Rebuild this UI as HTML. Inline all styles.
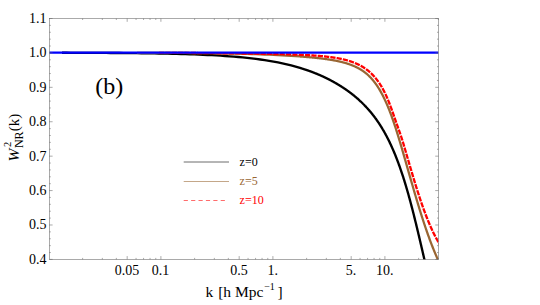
<!DOCTYPE html>
<html><head><meta charset="utf-8"><title>plot</title>
<style>html,body{margin:0;padding:0;background:#fff;}svg{display:block;}</style></head>
<body>
<svg width="540" height="305" viewBox="0 0 540 305">
<rect width="540" height="305" fill="#fff"/>
<defs><clipPath id="c"><rect x="49.3" y="18.5" width="389.2" height="240.89999999999998"/></clipPath></defs>
<g clip-path="url(#c)" fill="none" stroke-linejoin="round">
<path d="M62.03,52.77 L66.44,52.78 L70.85,52.80 L75.25,52.81 L79.66,52.82 L84.07,52.84 L88.47,52.86 L92.88,52.87 L97.29,52.89 L101.69,52.92 L106.10,52.94 L110.51,52.97 L114.92,53.00 L119.32,53.03 L123.73,53.06 L128.14,53.10 L132.54,53.14 L136.95,53.19 L141.36,53.24 L145.76,53.30 L150.17,53.36 L154.58,53.42 L158.98,53.50 L163.39,53.58 L167.80,53.67 L172.20,53.76 L176.61,53.87 L181.02,53.99 L185.42,54.11 L189.83,54.25 L194.24,54.41 L198.64,54.57 L203.05,54.76 L207.46,54.96 L211.86,55.18 L216.27,55.42 L220.68,55.69 L225.08,55.98 L229.49,56.30 L233.90,56.64 L238.31,57.02 L242.71,57.44 L247.12,57.89 L251.53,58.39 L255.93,58.93 L260.34,59.52 L264.75,60.16 L269.15,60.87 L273.56,61.63 L277.97,62.47 L282.37,63.38 L286.78,64.37 L291.19,65.45 L295.59,66.62 L300.00,67.90 L300.26,67.97 L300.51,68.05 L300.77,68.13 L301.02,68.21 L301.28,68.29 L301.53,68.37 L301.79,68.45 L302.04,68.52 L302.30,68.60 L302.55,68.69 L302.81,68.77 L303.06,68.85 L303.32,68.93 L303.57,69.01 L303.83,69.09 L304.08,69.18 L304.34,69.26 L304.59,69.34 L304.85,69.43 L305.10,69.51 L305.36,69.60 L305.61,69.68 L305.87,69.77 L306.12,69.85 L306.38,69.94 L306.63,70.03 L306.89,70.11 L307.14,70.20 L307.40,70.29 L307.65,70.38 L307.91,70.47 L308.16,70.56 L308.42,70.65 L308.67,70.74 L308.93,70.83 L309.18,70.92 L309.44,71.01 L309.69,71.10 L309.95,71.19 L310.20,71.29 L310.46,71.38 L310.71,71.47 L310.97,71.57 L311.22,71.66 L311.48,71.76 L311.74,71.85 L311.99,71.95 L312.25,72.05 L312.50,72.14 L312.76,72.24 L313.01,72.34 L313.27,72.44 L313.52,72.53 L313.78,72.63 L314.03,72.73 L314.29,72.83 L314.54,72.93 L314.80,73.03 L315.05,73.14 L315.31,73.24 L315.56,73.34 L315.82,73.44 L316.07,73.55 L316.33,73.65 L316.58,73.75 L316.84,73.86 L317.09,73.96 L317.35,74.07 L317.60,74.18 L317.86,74.28 L318.11,74.39 L318.37,74.50 L318.62,74.61 L318.88,74.72 L319.13,74.82 L319.39,74.93 L319.64,75.04 L319.90,75.16 L320.15,75.27 L320.41,75.38 L320.66,75.49 L320.92,75.60 L321.17,75.72 L321.43,75.83 L321.68,75.95 L321.94,76.06 L322.19,76.18 L322.45,76.29 L322.70,76.41 L322.96,76.53 L323.22,76.64 L323.47,76.76 L323.73,76.88 L323.98,77.00 L324.24,77.12 L324.49,77.24 L324.75,77.36 L325.00,77.48 L325.26,77.61 L325.51,77.73 L325.77,77.85 L326.02,77.97 L326.28,78.10 L326.53,78.22 L326.79,78.35 L327.04,78.48 L327.30,78.60 L327.55,78.73 L327.81,78.86 L328.06,78.99 L328.32,79.11 L328.57,79.24 L328.83,79.37 L329.08,79.51 L329.34,79.64 L329.59,79.77 L329.85,79.90 L330.10,80.03 L330.36,80.17 L330.61,80.30 L330.87,80.44 L331.12,80.57 L331.38,80.71 L331.63,80.85 L331.89,80.98 L332.14,81.12 L332.40,81.26 L332.65,81.40 L332.91,81.54 L333.16,81.68 L333.42,81.82 L333.67,81.96 L333.93,82.10 L334.18,82.25 L334.44,82.39 L334.69,82.54 L334.95,82.68 L335.21,82.83 L335.46,82.97 L335.72,83.12 L335.97,83.27 L336.23,83.42 L336.48,83.57 L336.74,83.72 L336.99,83.87 L337.25,84.02 L337.50,84.17 L337.76,84.32 L338.01,84.47 L338.27,84.63 L338.52,84.78 L338.78,84.94 L339.03,85.09 L339.29,85.25 L339.54,85.41 L339.80,85.56 L340.05,85.72 L340.31,85.88 L340.56,86.04 L340.82,86.20 L341.07,86.36 L341.33,86.53 L341.58,86.69 L341.84,86.85 L342.09,87.02 L342.35,87.18 L342.60,87.35 L342.86,87.52 L343.11,87.68 L343.37,87.85 L343.62,88.02 L343.88,88.19 L344.13,88.36 L344.39,88.53 L344.64,88.70 L344.90,88.88 L345.15,89.05 L345.41,89.23 L345.66,89.40 L345.92,89.58 L346.17,89.75 L346.43,89.93 L346.69,90.11 L346.94,90.29 L347.20,90.47 L347.45,90.65 L347.71,90.84 L347.96,91.02 L348.22,91.20 L348.47,91.39 L348.73,91.57 L348.98,91.76 L349.24,91.95 L349.49,92.14 L349.75,92.33 L350.00,92.52 L350.26,92.71 L350.51,92.90 L350.77,93.10 L351.02,93.29 L351.28,93.49 L351.53,93.68 L351.79,93.88 L352.04,94.08 L352.30,94.28 L352.55,94.48 L352.81,94.68 L353.06,94.89 L353.32,95.09 L353.57,95.30 L353.83,95.50 L354.08,95.71 L354.34,95.92 L354.59,96.13 L354.85,96.34 L355.10,96.55 L355.36,96.76 L355.61,96.98 L355.87,97.19 L356.12,97.41 L356.38,97.63 L356.63,97.85 L356.89,98.07 L357.14,98.29 L357.40,98.51 L357.65,98.73 L357.91,98.96 L358.17,99.19 L358.42,99.41 L358.68,99.64 L358.93,99.87 L359.19,100.10 L359.44,100.34 L359.70,100.57 L359.95,100.81 L360.21,101.04 L360.46,101.28 L360.72,101.52 L360.97,101.76 L361.23,102.01 L361.48,102.25 L361.74,102.50 L361.99,102.74 L362.25,102.99 L362.50,103.24 L362.76,103.49 L363.01,103.75 L363.27,104.00 L363.52,104.26 L363.78,104.51 L364.03,104.77 L364.29,105.03 L364.54,105.30 L364.80,105.56 L365.05,105.83 L365.31,106.09 L365.56,106.36 L365.82,106.63 L366.07,106.91 L366.33,107.18 L366.58,107.46 L366.84,107.73 L367.09,108.01 L367.35,108.29 L367.60,108.58 L367.86,108.86 L368.11,109.15 L368.37,109.44 L368.62,109.73 L368.88,110.02 L369.13,110.31 L369.39,110.61 L369.65,110.91 L369.90,111.21 L370.16,111.51 L370.41,111.81 L370.67,112.12 L370.92,112.43 L371.18,112.74 L371.43,113.05 L371.69,113.36 L371.94,113.68 L372.20,114.00 L372.45,114.32 L372.71,114.64 L372.96,114.97 L373.22,115.29 L373.47,115.62 L373.73,115.95 L373.98,116.29 L374.24,116.63 L374.49,116.96 L374.75,117.30 L375.00,117.65 L375.26,117.99 L375.51,118.34 L375.77,118.69 L376.02,119.05 L376.28,119.40 L376.53,119.76 L376.79,120.12 L377.04,120.49 L377.30,120.85 L377.55,121.22 L377.81,121.59 L378.06,121.97 L378.32,122.34 L378.57,122.72 L378.83,123.10 L379.08,123.49 L379.34,123.88 L379.59,124.27 L379.85,124.66 L380.10,125.06 L380.36,125.46 L380.61,125.86 L380.87,126.27 L381.13,126.68 L381.38,127.09 L381.64,127.50 L381.89,127.92 L382.15,128.34 L382.40,128.77 L382.66,129.19 L382.91,129.63 L383.17,130.06 L383.42,130.50 L383.68,130.94 L383.93,131.38 L384.19,131.83 L384.44,132.28 L384.70,132.74 L384.95,133.20 L385.21,133.66 L385.46,134.12 L385.72,134.59 L385.97,135.07 L386.23,135.54 L386.48,136.02 L386.74,136.51 L386.99,137.00 L387.25,137.49 L387.50,137.98 L387.76,138.48 L388.01,138.99 L388.27,139.50 L388.52,140.01 L388.78,140.52 L389.03,141.04 L389.29,141.57 L389.54,142.10 L389.80,142.63 L390.05,143.16 L390.31,143.70 L390.56,144.25 L390.82,144.80 L391.07,145.35 L391.33,145.91 L391.58,146.47 L391.84,147.04 L392.09,147.61 L392.35,148.18 L392.61,148.76 L392.86,149.35 L393.12,149.93 L393.37,150.53 L393.63,151.12 L393.88,151.73 L394.14,152.33 L394.39,152.94 L394.65,153.56 L394.90,154.18 L395.16,154.81 L395.41,155.44 L395.67,156.07 L395.92,156.71 L396.18,157.36 L396.43,158.00 L396.69,158.66 L396.94,159.32 L397.20,159.98 L397.45,160.65 L397.71,161.33 L397.96,162.01 L398.22,162.69 L398.47,163.38 L398.73,164.07 L398.98,164.77 L399.24,165.48 L399.49,166.19 L399.75,166.90 L400.00,167.62 L400.26,168.35 L400.51,169.08 L400.77,169.82 L401.02,170.56 L401.28,171.31 L401.53,172.06 L401.79,172.82 L402.04,173.59 L402.30,174.36 L402.55,175.13 L402.81,175.91 L403.06,176.70 L403.32,177.49 L403.57,178.29 L403.83,179.09 L404.08,179.90 L404.34,180.72 L404.60,181.54 L404.85,182.37 L405.11,183.20 L405.36,184.04 L405.62,184.89 L405.87,185.74 L406.13,186.60 L406.38,187.46 L406.64,188.33 L406.89,189.20 L407.15,190.08 L407.40,190.97 L407.66,191.86 L407.91,192.75 L408.17,193.65 L408.42,194.56 L408.68,195.47 L408.93,196.39 L409.19,197.32 L409.44,198.25 L409.70,199.18 L409.95,200.12 L410.21,201.06 L410.46,202.01 L410.72,202.97 L410.97,203.93 L411.23,204.89 L411.48,205.86 L411.74,206.84 L411.99,207.82 L412.25,208.80 L412.50,209.79 L412.76,210.79 L413.01,211.78 L413.27,212.79 L413.52,213.79 L413.78,214.81 L414.03,215.82 L414.29,216.84 L414.54,217.87 L414.80,218.89 L415.05,219.93 L415.31,220.96 L415.56,222.00 L415.82,223.04 L416.08,224.09 L416.33,225.14 L416.59,226.19 L416.84,227.25 L417.10,228.31 L417.35,229.37 L417.61,230.44 L417.86,231.51 L418.12,232.58 L418.37,233.65 L418.63,234.73 L418.88,235.81 L419.14,236.89 L419.39,237.97 L419.65,239.05 L419.90,240.14 L420.16,241.23 L420.41,242.32 L420.67,243.41 L420.92,244.50 L421.18,245.60 L421.43,246.69 L421.69,247.79 L421.94,248.88 L422.20,249.98 L422.45,251.08 L422.71,252.17 L422.96,253.27 L423.22,254.37 L423.47,255.46 L423.73,256.56 L423.98,257.66 L424.24,258.75 L424.49,259.84 L424.75,260.94 L425.00,262.03 L425.26,263.12 L425.51,264.21 L425.77,265.29 L426.02,266.38 L426.28,267.46 L426.53,268.54 L426.79,269.62 L427.04,270.69 L427.30,271.76" stroke="#000" stroke-width="2.35"/>
<path d="M136.95,52.78 L141.36,52.79 L145.76,52.80 L150.17,52.82 L154.58,52.83 L158.98,52.85 L163.39,52.87 L167.80,52.89 L172.20,52.91 L176.61,52.93 L181.02,52.96 L185.42,52.99 L189.83,53.03 L194.24,53.06 L198.64,53.10 L203.05,53.15 L207.46,53.19 L211.86,53.25 L216.27,53.31 L220.68,53.37 L225.08,53.44 L229.49,53.52 L233.90,53.61 L238.31,53.70 L242.71,53.81 L247.12,53.93 L251.53,54.05 L255.93,54.19 L260.34,54.34 L264.75,54.51 L269.15,54.69 L273.56,54.89 L277.97,55.11 L282.37,55.34 L286.78,55.60 L291.19,55.87 L295.59,56.17 L300.00,56.49 L300.29,56.51 L300.57,56.53 L300.86,56.55 L301.14,56.57 L301.43,56.60 L301.71,56.62 L302.00,56.64 L302.28,56.66 L302.57,56.69 L302.86,56.71 L303.14,56.73 L303.43,56.75 L303.71,56.78 L304.00,56.80 L304.28,56.82 L304.57,56.84 L304.85,56.87 L305.14,56.89 L305.43,56.91 L305.71,56.94 L306.00,56.96 L306.28,56.99 L306.57,57.01 L306.85,57.03 L307.14,57.06 L307.42,57.08 L307.71,57.11 L308.00,57.13 L308.28,57.16 L308.57,57.18 L308.85,57.21 L309.14,57.23 L309.42,57.26 L309.71,57.28 L309.99,57.31 L310.28,57.34 L310.57,57.36 L310.85,57.39 L311.14,57.42 L311.42,57.44 L311.71,57.47 L311.99,57.50 L312.28,57.52 L312.57,57.55 L312.85,57.58 L313.14,57.61 L313.42,57.63 L313.71,57.66 L313.99,57.69 L314.28,57.72 L314.56,57.75 L314.85,57.78 L315.14,57.81 L315.42,57.83 L315.71,57.86 L315.99,57.89 L316.28,57.92 L316.56,57.95 L316.85,57.98 L317.13,58.02 L317.42,58.05 L317.71,58.08 L317.99,58.11 L318.28,58.14 L318.56,58.17 L318.85,58.20 L319.13,58.24 L319.42,58.27 L319.70,58.30 L319.99,58.33 L320.28,58.37 L320.56,58.40 L320.85,58.44 L321.13,58.47 L321.42,58.50 L321.70,58.54 L321.99,58.57 L322.27,58.61 L322.56,58.65 L322.85,58.68 L323.13,58.72 L323.42,58.75 L323.70,58.79 L323.99,58.83 L324.27,58.87 L324.56,58.90 L324.84,58.94 L325.13,58.98 L325.42,59.02 L325.70,59.06 L325.99,59.10 L326.27,59.14 L326.56,59.18 L326.84,59.22 L327.13,59.26 L327.41,59.30 L327.70,59.34 L327.99,59.39 L328.27,59.43 L328.56,59.47 L328.84,59.52 L329.13,59.56 L329.41,59.60 L329.70,59.65 L329.98,59.69 L330.27,59.74 L330.56,59.79 L330.84,59.83 L331.13,59.88 L331.41,59.93 L331.70,59.98 L331.98,60.02 L332.27,60.07 L332.56,60.12 L332.84,60.17 L333.13,60.22 L333.41,60.27 L333.70,60.33 L333.98,60.38 L334.27,60.43 L334.55,60.48 L334.84,60.54 L335.13,60.59 L335.41,60.65 L335.70,60.70 L335.98,60.76 L336.27,60.82 L336.55,60.87 L336.84,60.93 L337.12,60.99 L337.41,61.05 L337.70,61.11 L337.98,61.17 L338.27,61.23 L338.55,61.29 L338.84,61.36 L339.12,61.42 L339.41,61.48 L339.69,61.55 L339.98,61.62 L340.27,61.68 L340.55,61.75 L340.84,61.82 L341.12,61.89 L341.41,61.96 L341.69,62.03 L341.98,62.10 L342.26,62.17 L342.55,62.24 L342.84,62.32 L343.12,62.39 L343.41,62.47 L343.69,62.54 L343.98,62.62 L344.26,62.70 L344.55,62.78 L344.83,62.86 L345.12,62.94 L345.41,63.03 L345.69,63.11 L345.98,63.19 L346.26,63.28 L346.55,63.37 L346.83,63.46 L347.12,63.54 L347.40,63.63 L347.69,63.73 L347.98,63.82 L348.26,63.91 L348.55,64.01 L348.83,64.10 L349.12,64.20 L349.40,64.30 L349.69,64.40 L349.97,64.50 L350.26,64.61 L350.55,64.71 L350.83,64.81 L351.12,64.92 L351.40,65.03 L351.69,65.14 L351.97,65.25 L352.26,65.37 L352.55,65.48 L352.83,65.60 L353.12,65.71 L353.40,65.83 L353.69,65.95 L353.97,66.08 L354.26,66.20 L354.54,66.33 L354.83,66.46 L355.12,66.59 L355.40,66.72 L355.69,66.85 L355.97,66.99 L356.26,67.12 L356.54,67.26 L356.83,67.41 L357.11,67.55 L357.40,67.69 L357.69,67.84 L357.97,67.99 L358.26,68.14 L358.54,68.30 L358.83,68.46 L359.11,68.61 L359.40,68.78 L359.68,68.94 L359.97,69.11 L360.26,69.28 L360.54,69.45 L360.83,69.62 L361.11,69.80 L361.40,69.98 L361.68,70.16 L361.97,70.34 L362.25,70.53 L362.54,70.72 L362.83,70.92 L363.11,71.11 L363.40,71.31 L363.68,71.52 L363.97,71.72 L364.25,71.93 L364.54,72.15 L364.82,72.36 L365.11,72.58 L365.40,72.80 L365.68,73.03 L365.97,73.26 L366.25,73.50 L366.54,73.73 L366.82,73.98 L367.11,74.22 L367.39,74.47 L367.68,74.73 L367.97,74.98 L368.25,75.25 L368.54,75.51 L368.82,75.79 L369.11,76.06 L369.39,76.34 L369.68,76.63 L369.96,76.92 L370.25,77.21 L370.54,77.51 L370.82,77.81 L371.11,78.12 L371.39,78.43 L371.68,78.75 L371.96,79.08 L372.25,79.40 L372.54,79.74 L372.82,80.08 L373.11,80.42 L373.39,80.77 L373.68,81.12 L373.96,81.48 L374.25,81.85 L374.53,82.22 L374.82,82.59 L375.11,82.98 L375.39,83.36 L375.68,83.76 L375.96,84.16 L376.25,84.56 L376.53,84.97 L376.82,85.39 L377.10,85.81 L377.39,86.24 L377.68,86.68 L377.96,87.12 L378.25,87.57 L378.53,88.02 L378.82,88.48 L379.10,88.95 L379.39,89.42 L379.67,89.90 L379.96,90.39 L380.25,90.88 L380.53,91.38 L380.82,91.89 L381.10,92.40 L381.39,92.92 L381.67,93.45 L381.96,93.98 L382.24,94.52 L382.53,95.07 L382.82,95.62 L383.10,96.19 L383.39,96.75 L383.67,97.33 L383.96,97.91 L384.24,98.51 L384.53,99.10 L384.81,99.71 L385.10,100.32 L385.39,100.94 L385.67,101.57 L385.96,102.20 L386.24,102.84 L386.53,103.49 L386.81,104.15 L387.10,104.82 L387.38,105.49 L387.67,106.17 L387.96,106.85 L388.24,107.55 L388.53,108.25 L388.81,108.96 L389.10,109.68 L389.38,110.40 L389.67,111.13 L389.95,111.87 L390.24,112.62 L390.53,113.37 L390.81,114.13 L391.10,114.90 L391.38,115.68 L391.67,116.46 L391.95,117.25 L392.24,118.05 L392.53,118.85 L392.81,119.66 L393.10,120.48 L393.38,121.31 L393.67,122.14 L393.95,122.98 L394.24,123.82 L394.52,124.67 L394.81,125.53 L395.10,126.40 L395.38,127.27 L395.67,128.15 L395.95,129.03 L396.24,129.92 L396.52,130.82 L396.81,131.72 L397.09,132.63 L397.38,133.54 L397.67,134.46 L397.95,135.38 L398.24,136.31 L398.52,137.24 L398.81,138.18 L399.09,139.12 L399.38,140.07 L399.66,141.02 L399.95,141.97 L400.24,142.93 L400.52,143.89 L400.81,144.86 L401.09,145.83 L401.38,146.80 L401.66,147.78 L401.95,148.75 L402.23,149.73 L402.52,150.71 L402.81,151.70 L403.09,152.68 L403.38,153.67 L403.66,154.66 L403.95,155.65 L404.23,156.64 L404.52,157.63 L404.80,158.62 L405.09,159.62 L405.38,160.61 L405.66,161.61 L405.95,162.61 L406.23,163.61 L406.52,164.60 L406.80,165.60 L407.09,166.60 L407.37,167.60 L407.66,168.60 L407.95,169.60 L408.23,170.60 L408.52,171.60 L408.80,172.60 L409.09,173.60 L409.37,174.60 L409.66,175.60 L409.94,176.59 L410.23,177.59 L410.52,178.59 L410.80,179.58 L411.09,180.57 L411.37,181.57 L411.66,182.56 L411.94,183.55 L412.23,184.54 L412.52,185.52 L412.80,186.51 L413.09,187.49 L413.37,188.48 L413.66,189.46 L413.94,190.44 L414.23,191.41 L414.51,192.39 L414.80,193.36 L415.09,194.33 L415.37,195.30 L415.66,196.26 L415.94,197.23 L416.23,198.19 L416.51,199.15 L416.80,200.10 L417.08,201.05 L417.37,202.00 L417.66,202.95 L417.94,203.89 L418.23,204.83 L418.51,205.77 L418.80,206.70 L419.08,207.63 L419.37,208.56 L419.65,209.48 L419.94,210.40 L420.23,211.32 L420.51,212.23 L420.80,213.14 L421.08,214.05 L421.37,214.95 L421.65,215.85 L421.94,216.74 L422.22,217.64 L422.51,218.52 L422.80,219.40 L423.08,220.28 L423.37,221.16 L423.65,222.03 L423.94,222.89 L424.22,223.75 L424.51,224.61 L424.79,225.47 L425.08,226.31 L425.37,227.16 L425.65,228.00 L425.94,228.83 L426.22,229.66 L426.51,230.49 L426.79,231.31 L427.08,232.13 L427.36,232.94 L427.65,233.75 L427.94,234.56 L428.22,235.35 L428.51,236.15 L428.79,236.94 L429.08,237.72 L429.36,238.50 L429.65,239.28 L429.93,240.05 L430.22,240.82 L430.51,241.58 L430.79,242.33 L431.08,243.09 L431.36,243.83 L431.65,244.57 L431.93,245.31 L432.22,246.04 L432.51,246.77 L432.79,247.50 L433.08,248.21 L433.36,248.93 L433.65,249.64 L433.93,250.34 L434.22,251.04 L434.50,251.74 L434.79,252.43 L435.08,253.11 L435.36,253.79 L435.65,254.47 L435.93,255.14 L436.22,255.81 L436.50,256.47 L436.79,257.13 L437.07,257.78 L437.36,258.43 L437.65,259.08 L437.93,259.72 L438.22,260.35 L438.50,260.98 L438.79,261.61 L439.07,262.23 L439.36,262.85 L439.64,263.47 L439.93,264.08 L440.22,264.68 L440.50,265.28 L440.79,265.88 L441.07,266.48 L441.36,267.07 L441.64,267.65 L441.93,268.23 L442.21,268.81 L442.50,269.39" stroke="#996633" stroke-width="2.25"/>
<path d="M158.98,52.78 L163.39,52.79 L167.80,52.82 L172.20,52.84 L176.61,52.86 L181.02,52.89 L185.42,52.92 L189.83,52.95 L194.24,52.99 L198.64,53.03 L203.05,53.07 L207.46,53.11 L211.86,53.15 L216.27,53.20 L220.68,53.24 L225.08,53.29 L229.49,53.34 L233.90,53.39 L238.31,53.45 L242.71,53.50 L247.12,53.56 L251.53,53.62 L255.93,53.69 L260.34,53.76 L264.75,53.83 L269.15,53.91 L273.56,54.00 L277.97,54.10 L282.37,54.21 L286.78,54.33 L291.19,54.46 L295.59,54.61 L300.00,54.79 L300.29,54.80 L300.58,54.81 L300.87,54.83 L301.15,54.84 L301.44,54.85 L301.73,54.86 L302.02,54.88 L302.31,54.89 L302.60,54.90 L302.89,54.92 L303.17,54.93 L303.46,54.94 L303.75,54.96 L304.04,54.97 L304.33,54.99 L304.62,55.00 L304.91,55.01 L305.19,55.03 L305.48,55.04 L305.77,55.06 L306.06,55.07 L306.35,55.09 L306.64,55.10 L306.93,55.12 L307.21,55.13 L307.50,55.15 L307.79,55.16 L308.08,55.18 L308.37,55.20 L308.66,55.21 L308.95,55.23 L309.23,55.25 L309.52,55.26 L309.81,55.28 L310.10,55.30 L310.39,55.31 L310.68,55.33 L310.97,55.35 L311.25,55.37 L311.54,55.38 L311.83,55.40 L312.12,55.42 L312.41,55.44 L312.70,55.46 L312.99,55.48 L313.27,55.50 L313.56,55.51 L313.85,55.53 L314.14,55.55 L314.43,55.57 L314.72,55.59 L315.01,55.61 L315.29,55.63 L315.58,55.65 L315.87,55.68 L316.16,55.70 L316.45,55.72 L316.74,55.74 L317.03,55.76 L317.31,55.78 L317.60,55.81 L317.89,55.83 L318.18,55.85 L318.47,55.87 L318.76,55.90 L319.05,55.92 L319.33,55.95 L319.62,55.97 L319.91,55.99 L320.20,56.02 L320.49,56.04 L320.78,56.07 L321.07,56.09 L321.35,56.12 L321.64,56.15 L321.93,56.17 L322.22,56.20 L322.51,56.23 L322.80,56.25 L323.09,56.28 L323.37,56.31 L323.66,56.34 L323.95,56.37 L324.24,56.40 L324.53,56.42 L324.82,56.45 L325.11,56.48 L325.39,56.51 L325.68,56.55 L325.97,56.58 L326.26,56.61 L326.55,56.64 L326.84,56.67 L327.13,56.70 L327.41,56.74 L327.70,56.77 L327.99,56.80 L328.28,56.84 L328.57,56.87 L328.86,56.91 L329.15,56.94 L329.43,56.98 L329.72,57.02 L330.01,57.05 L330.30,57.09 L330.59,57.13 L330.88,57.17 L331.17,57.20 L331.45,57.24 L331.74,57.28 L332.03,57.32 L332.32,57.36 L332.61,57.40 L332.90,57.45 L333.19,57.49 L333.47,57.53 L333.76,57.57 L334.05,57.62 L334.34,57.66 L334.63,57.71 L334.92,57.75 L335.21,57.80 L335.49,57.84 L335.78,57.89 L336.07,57.94 L336.36,57.99 L336.65,58.04 L336.94,58.09 L337.23,58.14 L337.52,58.19 L337.80,58.24 L338.09,58.29 L338.38,58.35 L338.67,58.40 L338.96,58.45 L339.25,58.51 L339.54,58.56 L339.82,58.62 L340.11,58.68 L340.40,58.74 L340.69,58.80 L340.98,58.86 L341.27,58.92 L341.56,58.98 L341.84,59.04 L342.13,59.10 L342.42,59.17 L342.71,59.23 L343.00,59.30 L343.29,59.37 L343.58,59.43 L343.86,59.50 L344.15,59.57 L344.44,59.64 L344.73,59.71 L345.02,59.79 L345.31,59.86 L345.60,59.93 L345.88,60.01 L346.17,60.09 L346.46,60.16 L346.75,60.24 L347.04,60.32 L347.33,60.40 L347.62,60.48 L347.90,60.57 L348.19,60.65 L348.48,60.74 L348.77,60.82 L349.06,60.91 L349.35,61.00 L349.64,61.09 L349.92,61.18 L350.21,61.28 L350.50,61.37 L350.79,61.47 L351.08,61.56 L351.37,61.66 L351.66,61.76 L351.94,61.86 L352.23,61.97 L352.52,62.07 L352.81,62.18 L353.10,62.28 L353.39,62.39 L353.68,62.50 L353.96,62.61 L354.25,62.73 L354.54,62.84 L354.83,62.96 L355.12,63.08 L355.41,63.20 L355.70,63.32 L355.98,63.44 L356.27,63.57 L356.56,63.70 L356.85,63.82 L357.14,63.96 L357.43,64.09 L357.72,64.22 L358.00,64.36 L358.29,64.50 L358.58,64.64 L358.87,64.78 L359.16,64.93 L359.45,65.08 L359.74,65.23 L360.02,65.38 L360.31,65.53 L360.60,65.69 L360.89,65.85 L361.18,66.01 L361.47,66.17 L361.76,66.34 L362.04,66.50 L362.33,66.68 L362.62,66.85 L362.91,67.02 L363.20,67.20 L363.49,67.38 L363.78,67.57 L364.06,67.76 L364.35,67.95 L364.64,68.14 L364.93,68.33 L365.22,68.53 L365.51,68.73 L365.80,68.94 L366.08,69.15 L366.37,69.36 L366.66,69.57 L366.95,69.79 L367.24,70.01 L367.53,70.23 L367.82,70.46 L368.10,70.69 L368.39,70.93 L368.68,71.17 L368.97,71.41 L369.26,71.65 L369.55,71.90 L369.84,72.16 L370.12,72.42 L370.41,72.68 L370.70,72.94 L370.99,73.21 L371.28,73.49 L371.57,73.76 L371.86,74.05 L372.14,74.33 L372.43,74.63 L372.72,74.92 L373.01,75.22 L373.30,75.53 L373.59,75.84 L373.88,76.16 L374.16,76.48 L374.45,76.80 L374.74,77.13 L375.03,77.47 L375.32,77.81 L375.61,78.16 L375.90,78.51 L376.18,78.87 L376.47,79.23 L376.76,79.60 L377.05,79.98 L377.34,80.36 L377.63,80.75 L377.92,81.14 L378.20,81.54 L378.49,81.95 L378.78,82.37 L379.07,82.79 L379.36,83.21 L379.65,83.65 L379.94,84.09 L380.22,84.54 L380.51,85.00 L380.80,85.46 L381.09,85.93 L381.38,86.41 L381.67,86.90 L381.96,87.39 L382.24,87.90 L382.53,88.41 L382.82,88.93 L383.11,89.46 L383.40,89.99 L383.69,90.54 L383.98,91.09 L384.26,91.66 L384.55,92.23 L384.84,92.82 L385.13,93.41 L385.42,94.01 L385.71,94.63 L386.00,95.25 L386.28,95.89 L386.57,96.53 L386.86,97.18 L387.15,97.85 L387.44,98.52 L387.73,99.21 L388.02,99.90 L388.30,100.61 L388.59,101.32 L388.88,102.04 L389.17,102.77 L389.46,103.51 L389.75,104.26 L390.04,105.01 L390.32,105.78 L390.61,106.55 L390.90,107.33 L391.19,108.12 L391.48,108.91 L391.77,109.71 L392.06,110.51 L392.34,111.32 L392.63,112.14 L392.92,112.95 L393.21,113.78 L393.50,114.60 L393.79,115.43 L394.08,116.27 L394.36,117.10 L394.65,117.93 L394.94,118.77 L395.23,119.60 L395.52,120.44 L395.81,121.27 L396.10,122.10 L396.38,122.93 L396.67,123.75 L396.96,124.57 L397.25,125.39 L397.54,126.20 L397.83,127.01 L398.12,127.82 L398.40,128.63 L398.69,129.44 L398.98,130.25 L399.27,131.07 L399.56,131.89 L399.85,132.72 L400.14,133.56 L400.42,134.40 L400.71,135.25 L401.00,136.12 L401.29,137.00 L401.58,137.89 L401.87,138.79 L402.16,139.71 L402.44,140.63 L402.73,141.57 L403.02,142.51 L403.31,143.46 L403.60,144.42 L403.89,145.39 L404.18,146.36 L404.46,147.34 L404.75,148.32 L405.04,149.31 L405.33,150.30 L405.62,151.29 L405.91,152.28 L406.20,153.27 L406.48,154.26 L406.77,155.25 L407.06,156.24 L407.35,157.23 L407.64,158.22 L407.93,159.21 L408.22,160.20 L408.51,161.19 L408.79,162.18 L409.08,163.16 L409.37,164.15 L409.66,165.13 L409.95,166.12 L410.24,167.10 L410.53,168.08 L410.81,169.06 L411.10,170.03 L411.39,171.01 L411.68,171.98 L411.97,172.95 L412.26,173.92 L412.55,174.88 L412.83,175.85 L413.12,176.81 L413.41,177.76 L413.70,178.72 L413.99,179.67 L414.28,180.62 L414.57,181.57 L414.85,182.51 L415.14,183.45 L415.43,184.38 L415.72,185.31 L416.01,186.24 L416.30,187.17 L416.59,188.09 L416.87,189.00 L417.16,189.91 L417.45,190.82 L417.74,191.73 L418.03,192.62 L418.32,193.52 L418.61,194.41 L418.89,195.30 L419.18,196.18 L419.47,197.05 L419.76,197.93 L420.05,198.79 L420.34,199.65 L420.63,200.51 L420.91,201.36 L421.20,202.21 L421.49,203.05 L421.78,203.89 L422.07,204.72 L422.36,205.54 L422.65,206.36 L422.93,207.17 L423.22,207.98 L423.51,208.79 L423.80,209.58 L424.09,210.37 L424.38,211.16 L424.67,211.94 L424.95,212.71 L425.24,213.48 L425.53,214.24 L425.82,215.00 L426.11,215.75 L426.40,216.50 L426.69,217.23 L426.97,217.97 L427.26,218.69 L427.55,219.41 L427.84,220.13 L428.13,220.84 L428.42,221.54 L428.71,222.23 L428.99,222.92 L429.28,223.61 L429.57,224.28 L429.86,224.96 L430.15,225.62 L430.44,226.28 L430.73,226.93 L431.01,227.58 L431.30,228.22 L431.59,228.85 L431.88,229.48 L432.17,230.11 L432.46,230.72 L432.75,231.33 L433.03,231.94 L433.32,232.53 L433.61,233.13 L433.90,233.71 L434.19,234.29 L434.48,234.87 L434.77,235.44 L435.05,236.00 L435.34,236.55 L435.63,237.11 L435.92,237.65 L436.21,238.19 L436.50,238.72 L436.79,239.25 L437.07,239.78 L437.36,240.29 L437.65,240.81 L437.94,241.31 L438.23,241.81 L438.52,242.31 L438.81,242.80 L439.09,243.28 L439.38,243.76 L439.67,244.24 L439.96,244.71 L440.25,245.17 L440.54,245.63 L440.83,246.09 L441.11,246.54 L441.40,246.98 L441.69,247.43 L441.98,247.86 L442.27,248.29 L442.56,248.72 L442.85,249.14 L443.13,249.56 L443.42,249.98 L443.71,250.39 L444.00,250.79" stroke="#ff0000" stroke-width="2.3" stroke-dasharray="5.25 1.1"/>
<path d="M49.3,52.699999999999996 H438.5" stroke="#0000ff" stroke-width="2.3"/>
</g>
<g stroke="#686868" stroke-width="0.56" fill="none">
<rect x="49.3" y="18.5" width="389.2" height="240.89999999999998"/>
<path d="M49.3,259.40 h3.3 M438.5,259.40 h-3.3 M49.3,252.52 h1.5 M438.5,252.52 h-1.5 M49.3,245.63 h1.5 M438.5,245.63 h-1.5 M49.3,238.75 h1.5 M438.5,238.75 h-1.5 M49.3,231.87 h1.5 M438.5,231.87 h-1.5 M49.3,224.99 h3.3 M438.5,224.99 h-3.3 M49.3,218.10 h1.5 M438.5,218.10 h-1.5 M49.3,211.22 h1.5 M438.5,211.22 h-1.5 M49.3,204.34 h1.5 M438.5,204.34 h-1.5 M49.3,197.45 h1.5 M438.5,197.45 h-1.5 M49.3,190.57 h3.3 M438.5,190.57 h-3.3 M49.3,183.69 h1.5 M438.5,183.69 h-1.5 M49.3,176.81 h1.5 M438.5,176.81 h-1.5 M49.3,169.92 h1.5 M438.5,169.92 h-1.5 M49.3,163.04 h1.5 M438.5,163.04 h-1.5 M49.3,156.16 h3.3 M438.5,156.16 h-3.3 M49.3,149.27 h1.5 M438.5,149.27 h-1.5 M49.3,142.39 h1.5 M438.5,142.39 h-1.5 M49.3,135.51 h1.5 M438.5,135.51 h-1.5 M49.3,128.63 h1.5 M438.5,128.63 h-1.5 M49.3,121.74 h3.3 M438.5,121.74 h-3.3 M49.3,114.86 h1.5 M438.5,114.86 h-1.5 M49.3,107.98 h1.5 M438.5,107.98 h-1.5 M49.3,101.09 h1.5 M438.5,101.09 h-1.5 M49.3,94.21 h1.5 M438.5,94.21 h-1.5 M49.3,87.33 h3.3 M438.5,87.33 h-3.3 M49.3,80.45 h1.5 M438.5,80.45 h-1.5 M49.3,73.56 h1.5 M438.5,73.56 h-1.5 M49.3,66.68 h1.5 M438.5,66.68 h-1.5 M49.3,59.80 h1.5 M438.5,59.80 h-1.5 M49.3,52.91 h3.3 M438.5,52.91 h-3.3 M49.3,46.03 h1.5 M438.5,46.03 h-1.5 M49.3,39.15 h1.5 M438.5,39.15 h-1.5 M49.3,32.27 h1.5 M438.5,32.27 h-1.5 M49.3,25.38 h1.5 M438.5,25.38 h-1.5 M49.3,18.50 h3.3 M438.5,18.50 h-3.3 M82.62,259.4 v-1.5 M82.62,18.5 v1.5 M102.34,259.4 v-1.5 M102.34,18.5 v1.5 M116.33,259.4 v-1.5 M116.33,18.5 v1.5 M127.18,259.4 v-3.3 M127.18,18.5 v3.3 M136.05,259.4 v-1.5 M136.05,18.5 v1.5 M143.55,259.4 v-1.5 M143.55,18.5 v1.5 M150.05,259.4 v-1.5 M150.05,18.5 v1.5 M155.78,259.4 v-1.5 M155.78,18.5 v1.5 M160.90,259.4 v-3.3 M160.90,18.5 v3.3 M194.62,259.4 v-1.5 M194.62,18.5 v1.5 M214.34,259.4 v-1.5 M214.34,18.5 v1.5 M228.33,259.4 v-1.5 M228.33,18.5 v1.5 M239.18,259.4 v-3.3 M239.18,18.5 v3.3 M248.05,259.4 v-1.5 M248.05,18.5 v1.5 M255.55,259.4 v-1.5 M255.55,18.5 v1.5 M262.05,259.4 v-1.5 M262.05,18.5 v1.5 M267.78,259.4 v-1.5 M267.78,18.5 v1.5 M272.90,259.4 v-3.3 M272.90,18.5 v3.3 M306.62,259.4 v-1.5 M306.62,18.5 v1.5 M326.34,259.4 v-1.5 M326.34,18.5 v1.5 M340.33,259.4 v-1.5 M340.33,18.5 v1.5 M351.18,259.4 v-3.3 M351.18,18.5 v3.3 M360.05,259.4 v-1.5 M360.05,18.5 v1.5 M367.55,259.4 v-1.5 M367.55,18.5 v1.5 M374.05,259.4 v-1.5 M374.05,18.5 v1.5 M379.78,259.4 v-1.5 M379.78,18.5 v1.5 M384.90,259.4 v-3.3 M384.90,18.5 v3.3 M418.62,259.4 v-1.5 M418.62,18.5 v1.5 M438.34,259.4 v-1.5 M438.34,18.5 v1.5"/>
</g>
<g font-family="'Liberation Serif', serif" font-size="14" fill="#000" text-anchor="end">
<text x="46.5" y="263.85">0.4</text>
<text x="46.5" y="229.44">0.5</text>
<text x="46.5" y="195.02">0.6</text>
<text x="46.5" y="160.61">0.7</text>
<text x="46.5" y="126.19">0.8</text>
<text x="46.5" y="91.78">0.9</text>
<text x="46.5" y="57.36">1.0</text>
<text x="46.5" y="22.95">1.1</text>
</g>
<g font-family="'Liberation Serif', serif" font-size="14" fill="#000" text-anchor="middle">
<text x="127" y="274.6">0.05</text>
<text x="160.5" y="274.6">0.1</text>
<text x="239" y="274.6">0.5</text>
<text x="272.8" y="274.6">1.</text>
<text x="350.9" y="274.6">5.</text>
<text x="384.8" y="274.6">10.</text>
</g>
<text x="95.3" y="93.7" font-family="'Liberation Serif', serif" font-size="24" fill="#000">(b)</text>
<g font-family="'Liberation Serif', serif" font-size="15.5" fill="#000">
<text x="205.4" y="296.8">k</text>
<text x="218.2" y="296.8">[h Mpc</text>
<text x="264.2" y="290.2" font-size="10">−1</text>
<text x="277.6" y="296.8">]</text>
</g>
<g transform="translate(18.7,162.5) rotate(-90)" font-family="'Liberation Serif', serif" fill="#000">
<text x="1" y="0" font-size="15.5" font-style="italic">W</text>
<text x="15.4" y="-7.5" font-size="10.5">2</text>
<text x="14.4" y="4.3" font-size="12">NR</text>
<text x="31.2" y="0" font-size="15">(k)</text>
</g>
<g fill="none">
<path d="M183.7,162.0 H229" stroke="#000" stroke-width="0.58"/>
<path d="M183.7,181.5 H229" stroke="#996633" stroke-width="0.58"/>
<path d="M183.7,200.5 H225.5" stroke="#ff0000" stroke-width="0.58" stroke-dasharray="4.2 3.2"/>
</g>
<g font-family="'Liberation Serif', serif" font-size="12">
<text x="239.6" y="165.85" fill="#000">z=0</text>
<text x="239.6" y="185" fill="#996633">z=5</text>
<text x="239.6" y="204.15" fill="#ff0000">z=10</text>
</g>
</svg>
</body></html>
